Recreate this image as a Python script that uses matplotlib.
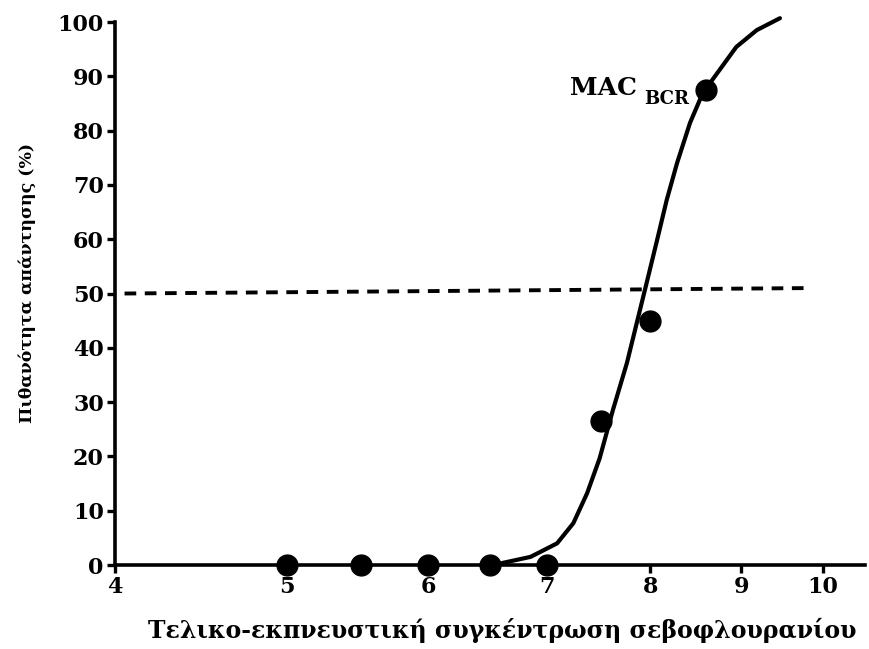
import matplotlib
matplotlib.use("Agg")
import matplotlib.pyplot as plt
from matplotlib.ticker import FixedLocator, FixedFormatter, NullLocator

# Observed responses (end-tidal sevoflurane concentration, % probability)
obs_conc = [5.0, 5.5, 6.0, 6.5, 7.0, 7.5, 8.0, 8.6]
obs_prob = [0, 0, 0, 0, 0, 26.5, 45, 87.5]

# Fitted dose-response curve, sampled along its length
curve_conc = [6.55, 6.61, 6.85, 7.09, 7.24, 7.37, 7.49, 7.62, 7.76, 7.86,
              7.96, 8.07, 8.17, 8.28, 8.42, 8.56, 8.75, 8.94, 9.18, 9.46]
curve_prob = [0, 0.4, 1.5, 4.0, 7.7, 13.2, 19.6, 28.5, 37.2, 44.6,
              51.9, 59.9, 67.2, 74.0, 81.4, 86.9, 91.2, 95.4, 98.5, 100.7]

# 50% reference line
ref_conc = [4.05, 9.8]
ref_prob = [50, 51]

x_ticks = [4, 5, 6, 7, 8, 9, 10]
x_tick_labels = ["4", "5", "6", "7", "8", "9", "10"]
y_ticks = [0, 10, 20, 30, 40, 50, 60, 70, 80, 90, 100]

xlabel = "Τελικο-εκπνευστική συγκέντρωση σεβοφλουρανίου"
ylabel = "Πιθανότητα απάντησης (%)"

serif = ["DejaVu Serif", "Liberation Serif"]
plt.rcParams["font.family"] = serif
plt.rcParams["font.weight"] = "bold"

fig = plt.figure(figsize=(8.69, 6.49), dpi=100)
ax = fig.add_axes([0.1323, 0.1294, 0.863, 0.8367])

ax.set_xscale("log")
ax.set_xlim(4, 10.56)
ax.set_ylim(0, 100)

ax.plot(ref_conc, ref_prob, color="black", lw=2.8, dashes=(3, 2.2),
        solid_capstyle="butt", dash_capstyle="butt", zorder=2)
ax.plot(curve_conc, curve_prob, color="black", lw=3.0, zorder=3,
        solid_joinstyle="round", solid_capstyle="round", clip_on=False)
ax.plot(obs_conc, obs_prob, "o", color="black", ms=15, zorder=4,
        clip_on=False)

ax.annotate("MAC", xy=(obs_conc[-1], obs_prob[-1]), xytext=(-50, -4),
            textcoords="offset points", ha="right", va="baseline",
            fontsize=18, fontweight="bold")
ax.annotate("BCR", xy=(obs_conc[-1], obs_prob[-1]), xytext=(-12, -10.5),
            textcoords="offset points", ha="right", va="baseline",
            fontsize=13, fontweight="bold")

ax.xaxis.set_major_locator(FixedLocator(x_ticks))
ax.xaxis.set_major_formatter(FixedFormatter(x_tick_labels))
ax.xaxis.set_minor_locator(NullLocator())
ax.set_yticks(y_ticks)

for side in ("top", "right"):
    ax.spines[side].set_visible(False)
for side in ("left", "bottom"):
    ax.spines[side].set_linewidth(2.6)

ax.tick_params(axis="both", direction="out", length=6, width=2.4,
               labelsize=16, pad=2)
for lab in ax.get_xticklabels() + ax.get_yticklabels():
    lab.set_fontweight("bold")

ax.set_xlabel(xlabel, fontsize=17, fontweight="bold")
ax.xaxis.set_label_coords(0.516, -0.097)
ax.set_ylabel(ylabel, fontsize=12.5, fontweight="bold")
ax.yaxis.set_label_coords(-0.105, 0.52)

fig.savefig("out.png", dpi=100)
